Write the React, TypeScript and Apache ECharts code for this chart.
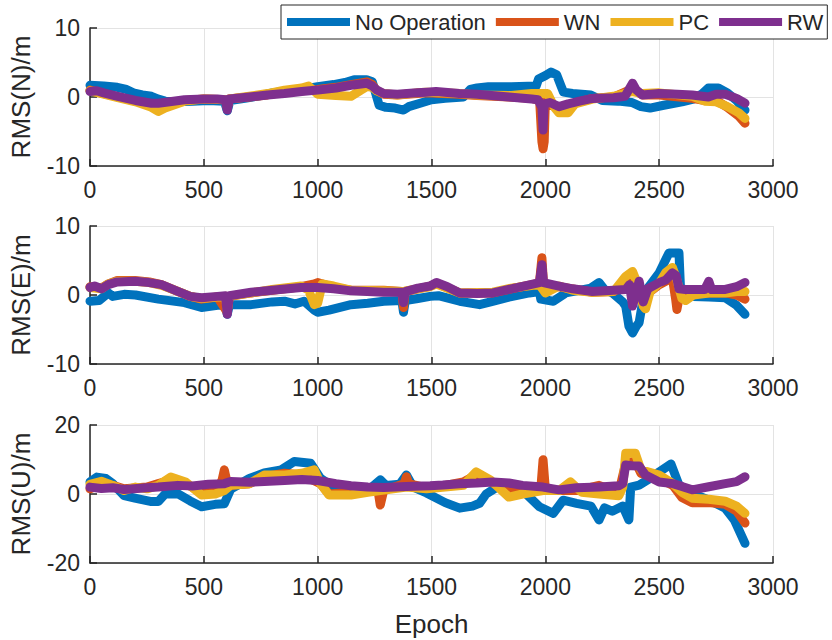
import React, { useEffect, useRef } from "react";
import * as echarts from "echarts";

const seriesNames = ["No Operation", "WN", "PC", "RW"];
const seriesColors = ["#0072BD", "#D95319", "#EDB120", "#7E2F8E"];
const xTicks = [0, 3000, 500];

// ---- North ----
const blueN = [[0,1.7],[60,1.6],[120,1.4],[160,1.1],[190,0.6],[230,0.3],[270,0.1],[300,-0.3],[330,-0.6],[380,-0.7],[450,-0.6],[520,-0.5],[590,-0.6],[603,-2.0],[615,-0.5],[680,-0.2],[750,0.2],[800,0.6],[870,0.9],[950,1.2],[1000,1.5],[1070,1.8],[1120,2.1],[1160,2.5],[1215,2.5],[1240,2.2],[1255,0.5],[1270,-1.2],[1300,-1.5],[1340,-1.6],[1377,-1.9],[1400,-1.4],[1450,-0.9],[1500,-0.4],[1560,-0.2],[1640,0.0],[1670,1.1],[1700,1.3],[1750,1.5],[1850,1.5],[1960,1.6],[1970,2.6],[2000,3.1],[2025,3.6],[2050,3.2],[2070,1.5],[2080,0.7],[2120,0.5],[2200,0.3],[2250,-0.5],[2320,-0.6],[2380,-0.8],[2420,-1.4],[2460,-1.6],[2520,-1.2],[2600,-0.7],[2650,-0.3],[2690,0.5],[2716,1.3],[2760,1.3],[2800,0.6],[2840,-0.5],[2877,-1.9]];
const orangeN = [[0,1.0],[60,0.5],[122,0.0],[200,-0.6],[270,-1.1],[300,-1.2],[350,-0.9],[415,-0.5],[500,-0.3],[595,-0.4],[603,-1.6],[612,-0.3],[700,0.0],[780,0.3],[854,0.7],[930,0.9],[1000,1.1],[1080,1.4],[1146,1.8],[1216,2.2],[1240,1.8],[1260,0.9],[1290,0.4],[1350,0.3],[1435,0.5],[1478,0.6],[1622,0.4],[1700,0.2],[1840,0.0],[1940,-0.2],[1975,-0.5],[1985,-6.5],[1990,-7.5],[1995,-6.5],[2000,-0.8],[2060,-1.6],[2150,-0.7],[2207,-0.2],[2300,0.0],[2383,1.2],[2426,0.3],[2500,0.3],[2645,-0.2],[2700,-0.5],[2750,-0.5],[2800,-1.5],[2850,-2.8],[2877,-3.8]];
const yellowN = [[0,0.9],[60,0.4],[122,-0.1],[200,-0.7],[270,-1.5],[300,-2.1],[330,-1.6],[415,-0.6],[500,-0.3],[595,-0.4],[603,-1.4],[612,-0.3],[700,0.1],[780,0.5],[854,1.0],[930,1.3],[960,1.6],[1000,0.4],[1080,0.2],[1146,0.1],[1190,1.0],[1216,1.5],[1240,1.4],[1260,0.9],[1290,0.5],[1350,0.3],[1435,0.6],[1478,0.7],[1622,0.5],[1700,0.3],[1840,0.2],[1940,0.5],[2010,0.5],[2040,-1.5],[2060,-2.3],[2100,-2.3],[2130,-1.0],[2207,-0.3],[2300,0.1],[2383,0.8],[2426,0.5],[2500,0.6],[2645,0.1],[2700,-0.6],[2750,-0.7],[2800,-1.4],[2850,-2.3],[2877,-3.1]];
const purpleN = [[0,0.8],[30,0.9],[60,0.6],[122,0.1],[200,-0.5],[270,-0.9],[300,-0.9],[350,-0.7],[415,-0.4],[500,-0.3],[560,-0.3],[595,-0.4],[603,-1.9],[612,-0.3],[700,0.0],[780,0.3],[854,0.5],[930,0.8],[1000,1.0],[1080,1.3],[1146,1.7],[1216,2.0],[1240,1.6],[1260,1.0],[1290,0.5],[1350,0.4],[1435,0.6],[1478,0.7],[1520,0.8],[1622,0.5],[1700,0.4],[1840,0.0],[1940,-0.3],[1968,-0.4],[1985,-1.5],[1990,-4.8],[1995,-1.0],[2020,-0.8],[2060,-1.4],[2100,-1.0],[2150,-0.6],[2207,-0.2],[2300,-0.1],[2350,0.1],[2383,2.0],[2400,1.0],[2426,0.3],[2500,0.5],[2580,0.4],[2645,0.3],[2716,0.0],[2750,0.4],[2790,0.4],[2840,-0.2],[2877,-0.9]];

// ---- East ----
const blueE = [[0,-0.9],[40,-0.8],[80,0.3],[100,-0.2],[150,0.1],[200,0.0],[300,-0.6],[415,-1.1],[490,-1.8],[560,-1.5],[595,-1.5],[603,-2.8],[612,-1.4],[708,-1.4],[800,-1.0],[854,-0.9],[900,-1.3],[940,-0.9],[985,-2.2],[1000,-2.5],[1050,-2.2],[1146,-1.4],[1220,-1.2],[1290,-0.9],[1370,-0.8],[1377,-2.5],[1385,-0.8],[1440,-0.5],[1494,-0.2],[1530,-0.1],[1624,-0.9],[1711,-1.4],[1760,-1.0],[1840,-0.3],[1930,0.3],[1974,0.5],[1980,-0.6],[2035,-0.9],[2090,0.3],[2200,1.0],[2236,1.8],[2260,0.8],[2294,0.3],[2340,-1.0],[2353,-1.6],[2367,-4.5],[2383,-5.5],[2400,-4.5],[2412,-4.0],[2430,-0.5],[2450,1.0],[2500,3.2],[2543,6.1],[2587,6.1],[2595,0.0],[2650,-0.2],[2718,-0.3],[2790,-0.4],[2840,-1.5],[2877,-2.8]];
const orangeE = [[0,1.2],[50,1.0],[80,1.6],[120,2.1],[197,2.1],[260,1.9],[314,1.5],[380,0.6],[440,-0.2],[490,-0.6],[560,-0.3],[603,-2.5],[612,-0.2],[708,0.3],[800,0.7],[927,1.2],[985,1.6],[1000,1.8],[1070,1.1],[1146,0.7],[1290,0.7],[1370,0.5],[1377,-1.8],[1385,0.5],[1494,1.3],[1522,1.7],[1624,0.3],[1770,0.3],[1850,0.9],[1974,1.7],[1985,5.4],[1992,1.6],[2060,1.2],[2207,0.4],[2300,0.5],[2353,1.5],[2383,2.0],[2400,0.8],[2430,-0.8],[2460,0.5],[2500,1.5],[2558,2.5],[2572,-0.5],[2578,-2.1],[2590,0.0],[2650,0.2],[2718,0.3],[2790,0.3],[2840,0.0],[2877,-0.6]];
const yellowE = [[0,1.1],[50,0.9],[80,1.6],[120,2.0],[197,2.0],[260,1.8],[314,1.4],[380,0.6],[440,-0.2],[490,-0.5],[560,-0.3],[595,-0.2],[603,-2.3],[612,-0.2],[708,0.3],[800,0.8],[927,1.3],[960,0.7],[985,-1.4],[1000,-1.2],[1020,1.6],[1070,1.3],[1146,0.7],[1290,0.6],[1370,0.5],[1377,-0.5],[1385,0.6],[1494,1.2],[1522,1.6],[1624,0.3],[1770,0.4],[1850,1.0],[1974,1.5],[1985,1.0],[2000,0.3],[2060,1.3],[2120,0.7],[2207,0.4],[2300,0.5],[2353,2.7],[2383,3.4],[2400,2.0],[2430,-1.6],[2440,-2.0],[2460,0.5],[2500,1.7],[2530,3.3],[2558,4.0],[2575,2.5],[2600,-0.5],[2616,-0.8],[2650,0.0],[2718,0.3],[2790,0.3],[2840,0.5],[2877,0.5]];
const purpleE = [[0,1.1],[20,1.3],[50,0.9],[80,1.5],[120,1.9],[197,2.0],[260,1.8],[314,1.5],[380,0.6],[440,-0.2],[490,-0.4],[560,-0.2],[595,-0.1],[603,-2.8],[612,-0.1],[708,0.4],[800,0.7],[927,1.1],[1000,1.1],[1070,0.9],[1146,0.6],[1290,0.4],[1370,0.4],[1377,-1.1],[1385,0.5],[1440,1.0],[1494,1.3],[1522,1.8],[1570,1.2],[1624,0.3],[1700,0.2],[1770,0.3],[1850,0.9],[1920,1.4],[1974,1.8],[1985,4.4],[1992,1.8],[2060,1.3],[2120,0.9],[2207,0.5],[2300,0.7],[2353,0.8],[2370,1.5],[2383,-1.6],[2400,0.5],[2412,2.0],[2430,-1.0],[2450,0.9],[2500,1.8],[2530,2.2],[2558,3.2],[2575,2.8],[2587,0.9],[2616,0.8],[2700,0.8],[2718,2.0],[2730,0.8],[2790,0.8],[2840,1.2],[2877,1.8]];

// ---- Up ----
const blueU = [[0,3.5],[30,4.9],[70,4.5],[100,3.0],[150,-0.5],[197,-1.2],[270,-2.2],[300,-2.2],[330,0.0],[385,0.1],[440,-2.0],[490,-3.7],[550,-3.0],[590,-2.8],[618,1.4],[700,4.5],[765,6.1],[840,7.0],[897,9.4],[969,8.9],[1012,4.6],[1080,1.5],[1146,0.8],[1220,1.0],[1275,4.1],[1300,2.5],[1360,2.8],[1390,5.5],[1420,2.0],[1478,0.3],[1560,-2.5],[1624,-4.1],[1680,-3.5],[1711,-2.7],[1740,0.0],[1800,2.5],[1900,1.0],[1974,-3.7],[2035,-5.6],[2078,-1.8],[2137,-2.7],[2200,-3.5],[2236,-7.5],[2260,-4.0],[2294,-5.0],[2340,-3.5],[2367,-7.5],[2375,2.0],[2412,2.6],[2460,4.5],[2500,6.4],[2552,8.7],[2587,2.6],[2650,0.0],[2718,-1.7],[2790,-4.1],[2830,-7.5],[2877,-14.3]];
const orangeU = [[0,1.5],[50,3.0],[100,2.5],[150,1.5],[250,2.0],[300,3.0],[355,4.0],[420,3.0],[490,0.5],[560,1.5],[580,4.0],[590,7.0],[600,4.0],[618,2.5],[700,3.0],[765,5.0],[854,6.0],[930,5.5],[1012,3.0],[1050,0.0],[1146,0.5],[1220,1.5],[1265,1.0],[1275,-3.2],[1290,1.0],[1380,3.0],[1390,5.0],[1400,3.0],[1478,1.8],[1560,2.5],[1640,3.5],[1696,5.5],[1760,3.5],[1840,0.5],[1900,1.0],[1980,1.5],[1990,9.9],[2000,1.5],[2060,1.0],[2137,1.0],[2236,2.5],[2323,0.5],[2353,9.0],[2395,9.5],[2420,6.0],[2500,4.5],[2560,2.5],[2600,-1.0],[2645,-2.5],[2718,-2.5],[2790,-3.0],[2840,-5.0],[2877,-8.4]];
const yellowU = [[0,2.8],[50,3.7],[100,2.5],[150,1.0],[200,2.0],[250,1.5],[300,2.5],[355,4.9],[420,3.5],[490,-0.3],[550,0.0],[590,1.0],[618,2.5],[700,3.0],[765,5.5],[854,5.5],[930,6.0],[985,7.0],[1012,3.0],[1050,-0.3],[1146,-0.3],[1220,0.5],[1275,1.0],[1390,2.0],[1478,1.5],[1560,2.0],[1640,2.5],[1696,6.4],[1760,4.0],[1840,-0.9],[1900,0.0],[1990,1.0],[2060,1.0],[2110,3.5],[2160,0.5],[2236,0.0],[2323,-0.5],[2340,2.0],[2353,11.8],[2395,11.8],[2420,7.0],[2500,5.5],[2560,3.0],[2600,0.5],[2645,-1.2],[2718,-1.5],[2790,-2.1],[2840,-3.5],[2877,-5.6]];
const purpleU = [[0,2.0],[50,1.6],[100,1.8],[150,1.3],[250,1.8],[300,2.0],[385,2.5],[450,2.3],[520,2.8],[590,3.0],[618,3.6],[700,3.4],[765,3.6],[854,3.9],[930,4.2],[1000,3.9],[1080,3.0],[1146,2.4],[1220,2.0],[1290,1.9],[1390,2.2],[1494,2.4],[1550,2.6],[1624,3.0],[1700,3.2],[1770,3.5],[1840,3.2],[1900,2.5],[1990,2.0],[2060,1.2],[2137,1.8],[2236,2.0],[2323,2.4],[2340,3.0],[2353,8.4],[2380,8.2],[2412,8.1],[2440,5.5],[2500,3.5],[2560,3.0],[2600,2.2],[2645,1.2],[2718,2.1],[2790,3.0],[2840,3.6],[2877,5.0]];

const panels = [
  { label: "RMS(N)/m", yTicks: [-10, 10, 10], data: [blueN, orangeN, yellowN, purpleN] },
  { label: "RMS(E)/m", yTicks: [-10, 10, 10], data: [blueE, orangeE, yellowE, purpleE] },
  { label: "RMS(U)/m", yTicks: [-20, 20, 20], data: [blueU, orangeU, yellowU, purpleU] },
];

const FONT = "'Liberation Sans', Arial, Helvetica, sans-serif";
const TXT = "#262626";

export default function App() {
  const ref = useRef<HTMLDivElement>(null);
  useEffect(() => {
    if (!ref.current) return;
    const chart = echarts.init(ref.current, null, { renderer: "svg" });
    const gridTops = [28, 226, 425];
    const grids = gridTops.map((t) => ({ left: 87, top: t, width: 686, height: 138, containLabel: false }));
    const axisCommon = {
      axisLine: { show: true, onZero: false, lineStyle: { color: TXT, width: 1.5 } },
      axisTick: { show: true, inside: true, length: 7, lineStyle: { color: TXT, width: 1.5 } },
      splitLine: { show: true, lineStyle: { color: "#e3e3e3", width: 1 } },
      axisLabel: { color: TXT, fontSize: 23, fontFamily: FONT, formatter: (v: number) => String(v) },
    };
    const xAxis = panels.map((p, i) => ({
      type: "value",
      gridIndex: i,
      min: xTicks[0],
      max: xTicks[1],
      interval: xTicks[2],
      ...axisCommon,
      axisLabel: { ...axisCommon.axisLabel, margin: 12 },
      name: i === 2 ? "Epoch" : "",
      nameLocation: "middle",
      nameGap: 48,
      nameTextStyle: { color: TXT, fontSize: 26, fontFamily: FONT },
    }));
    const yAxis = panels.map((p, i) => ({
      type: "value",
      gridIndex: i,
      min: p.yTicks[0],
      max: p.yTicks[1],
      interval: p.yTicks[2],
      ...axisCommon,
      axisLabel: { ...axisCommon.axisLabel, margin: 10 },
      name: p.label,
      nameLocation: "middle",
      nameGap: 56,
      nameTextStyle: { color: TXT, fontSize: 26, fontFamily: FONT },
    }));
    const series: any[] = [];
    panels.forEach((p, i) => {
      p.data.forEach((d, k) => {
        series.push({
          type: "line",
          name: seriesNames[k],
          xAxisIndex: i,
          yAxisIndex: i,
          data: d,
          showSymbol: false,
          symbol: "none",
          lineStyle: { color: seriesColors[k], width: 9, cap: "round", join: "round" },
          itemStyle: { color: seriesColors[k] },
          z: 2 + k,
        });
      });
    });
    chart.setOption({
      animation: false,
      backgroundColor: "#ffffff",
      grid: grids,
      xAxis,
      yAxis,
      legend: {
        data: seriesNames,
        left: 281,
        top: 5,
        orient: "horizontal",
        icon: "rect",
        itemWidth: 63,
        itemHeight: 8,
        itemGap: 10,
        padding: [6, 4, 6, 6],
        borderColor: TXT,
        borderWidth: 1,
        backgroundColor: "#ffffff",
        textStyle: { color: TXT, fontSize: 22, fontFamily: FONT },
        selectedMode: false,
      },
      series,
    });
    return () => chart.dispose();
  }, []);
  return <div ref={ref} style={{ position: "fixed", left: 0, top: 0, width: 832, height: 640 }} />;
}
